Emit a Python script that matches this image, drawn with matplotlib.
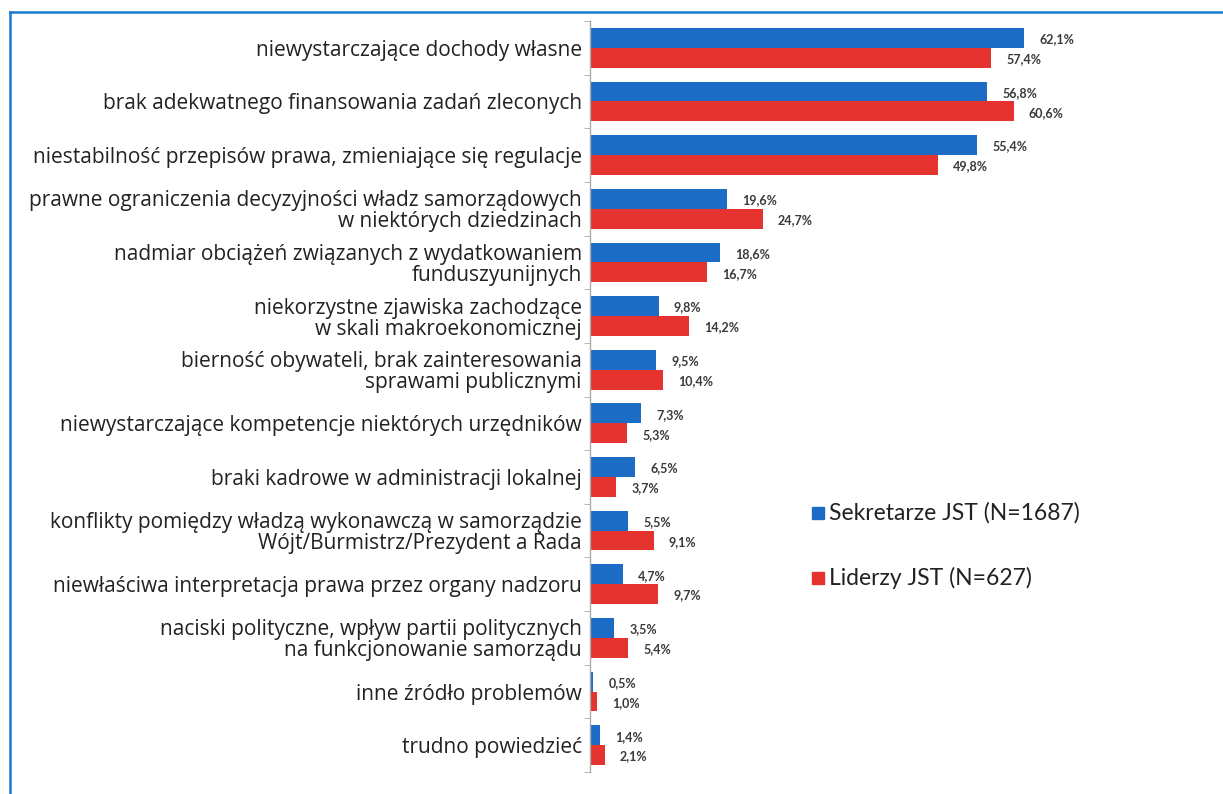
import matplotlib
matplotlib.use("Agg")
import matplotlib.pyplot as plt
from matplotlib.lines import Line2D
from matplotlib.patches import Rectangle
import numpy as np

categories = [
    "niewystarczające dochody własne",
    "brak adekwatnego finansowania zadań zleconych",
    "niestabilność przepisów prawa, zmieniające się regulacje",
    "prawne ograniczenia decyzyjności władz samorządowych\nw niektórych dziedzinach",
    "nadmiar obciążeń związanych z wydatkowaniem\nfunduszyunijnych",
    "niekorzystne zjawiska zachodzące\nw skali makroekonomicznej",
    "bierność obywateli, brak zainteresowania\nsprawami publicznymi",
    "niewystarczające kompetencje niektórych urzędników",
    "braki kadrowe w administracji lokalnej",
    "konflikty pomiędzy władzą wykonawczą w samorządzie\nWójt/Burmistrz/Prezydent a Rada",
    "niewłaściwa interpretacja prawa przez organy nadzoru",
    "naciski polityczne, wpływ partii politycznych\nna funkcjonowanie samorządu",
    "inne źródło problemów",
    "trudno powiedzieć",
]
sekretarze = [62.1, 56.8, 55.4, 19.6, 18.6, 9.8, 9.5, 7.3, 6.5, 5.5, 4.7, 3.5, 0.5, 1.4]
liderzy = [57.4, 60.6, 49.8, 24.7, 16.7, 14.2, 10.4, 5.3, 3.7, 9.1, 9.7, 5.4, 1.0, 2.1]
series_names = ["Sekretarze JST (N=1687)", "Liderzy JST (N=627)"]

BLUE = "#1c6cc6"
RED = "#e5342f"
FRAME = "#1a7ad0"

W, H = 1223, 794
fig = plt.figure(figsize=(W / 100, H / 100), dpi=100)

# frame lines (top and left)
fig.add_artist(Line2D([10 / W, 1], [1 - 12 / H, 1 - 12 / H], color=FRAME, lw=1.8,
                      transform=fig.transFigure))
fig.add_artist(Line2D([10 / W, 10 / W], [0, 1 - 12 / H], color=FRAME, lw=1.8,
                      transform=fig.transFigure))

left = 590 / W
top = 1 - 21 / H
bottom = 1 - 772 / H
ax = fig.add_axes([left, bottom, 1 - left, top - bottom])

n = len(categories)
y = np.arange(n)
h = 0.37

bars_b = ax.barh(y - h / 2, sekretarze, height=h, color=BLUE, edgecolor="none")
bars_r = ax.barh(y + h / 2, liderzy, height=h, color=RED, edgecolor="none")

for bars, vals in ((bars_b, sekretarze), (bars_r, liderzy)):
    for b, v in zip(bars, vals):
        ax.annotate(f"{v:.1f}%".replace(".", ","),
                    (b.get_width(), b.get_y() + b.get_height() / 2),
                    xytext=(11, -1), textcoords="offset points",
                    ha="left", va="center", fontsize=9, fontweight="bold",
                    family="Lato", color="#3a3a3a")

ax.set_xlim(0, (W - 590) / 6.99)
ax.set_ylim(n - 0.5, -0.5)
ax.set_yticks(y)
ax.set_yticklabels(categories, fontsize=15, family="Open Sans", color="#222222",
                   linespacing=1.0, ha="right")
ax.tick_params(axis="y", which="major", length=0, pad=6)
ax.set_yticks(np.arange(n + 1) - 0.5, minor=True)
ax.tick_params(axis="y", which="minor", length=4, color="#aaaaaa", direction="out")
ax.set_xticks([])
for s in ("top", "right", "bottom"):
    ax.spines[s].set_visible(False)
ax.spines["left"].set_color("#aaaaaa")
ax.spines["left"].set_linewidth(1.0)

# legend
leg_items = [(series_names[0], BLUE, 513), (series_names[1], RED, 578)]
for name, col, py in leg_items:
    fig.add_artist(Rectangle((812 / W, 1 - (py + 6) / H), 12 / W, 12 / H,
                             color=col, transform=fig.transFigure))
    fig.text(829 / W, 1 - py / H, name, fontsize=16.5, family="Lato",
             color="#222222", va="center", ha="left")

fig.savefig("out.png", dpi=100, facecolor="white")
